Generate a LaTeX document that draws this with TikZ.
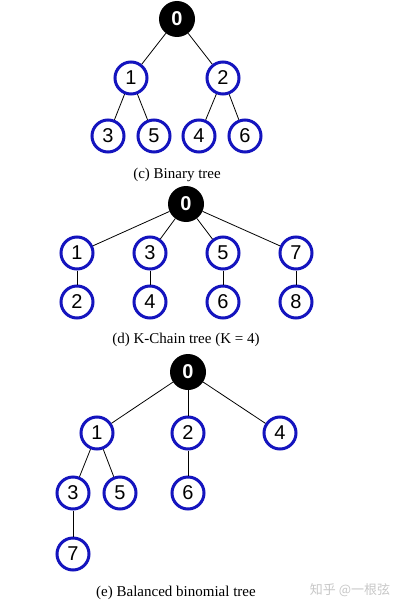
\documentclass[tikz,border=0pt]{standalone}
\usepackage{fontspec}
\setmainfont{Liberation Serif}
\setsansfont{Liberation Sans}
\newfontfamily\cjk{Noto Sans CJK SC}
\definecolor{ringblue}{RGB}{20,20,190}

\begin{document}
\begin{tikzpicture}[x=1pt,y=-1pt,
  vtx/.style={circle,draw=ringblue,line width=3pt,fill=white,minimum size=32pt,inner sep=0pt,
    font=\sffamily\fontsize{20}{20}\selectfont},
  rootvtx/.style={circle,fill=black,minimum size=36pt,inner sep=0pt,text=white,
    font=\sffamily\bfseries\fontsize{20}{20}\selectfont},
  caption/.style={font=\fontsize{15}{15}\selectfont}]
\useasboundingbox (0,0) rectangle (403,610);

\node[rootvtx] (b0) at (177,19) {0};
\node[vtx] (b1) at (131,78) {1};
\node[vtx] (b2) at (223,78) {2};
\node[vtx] (b3) at (108,136) {3};
\node[vtx] (b5) at (154,136) {5};
\node[vtx] (b4) at (199,136) {4};
\node[vtx] (b6) at (245,136) {6};
\node[caption] (bc) at (177,175) {(c) Binary tree};

\node[rootvtx] (k0) at (186,204) {0};
\node[vtx] (k1) at (77,253) {1};
\node[vtx] (k3) at (150,253) {3};
\node[vtx] (k5) at (223,253) {5};
\node[vtx] (k7) at (296,253) {7};
\node[vtx] (k2) at (77,302) {2};
\node[vtx] (k4) at (150,302) {4};
\node[vtx] (k6) at (223,302) {6};
\node[vtx] (k8) at (296,302) {8};
\node[caption] (kc) at (186,340) {(d) K-Chain tree (K = 4)};

\node[rootvtx] (m0) at (188,372) {0};
\node[vtx] (m1) at (97,433) {1};
\node[vtx] (m2) at (188,433) {2};
\node[vtx] (m4) at (280,433) {4};
\node[vtx] (m3) at (73,493) {3};
\node[vtx] (m5) at (120,493) {5};
\node[vtx] (m6) at (188,493) {6};
\node[vtx] (m7) at (73,554) {7};
\node[caption] (mc) at (176,593) {(e) Balanced binomial tree};

\node[text=black!22,font=\cjk\fontsize{13}{13}\selectfont] (wm) at (350,590) {知乎 @一根弦};

\foreach \a/\b in {b0/b1,b0/b2,b1/b3,b1/b5,b2/b4,b2/b6,
  k0/k1,k0/k3,k0/k5,k0/k7,k1/k2,k3/k4,k5/k6,k7/k8,
  m0/m1,m0/m2,m0/m4,m1/m3,m1/m5,m2/m6,m3/m7}
  \draw[line width=0.8pt] (\a) -- (\b);
\end{tikzpicture}
\end{document}
